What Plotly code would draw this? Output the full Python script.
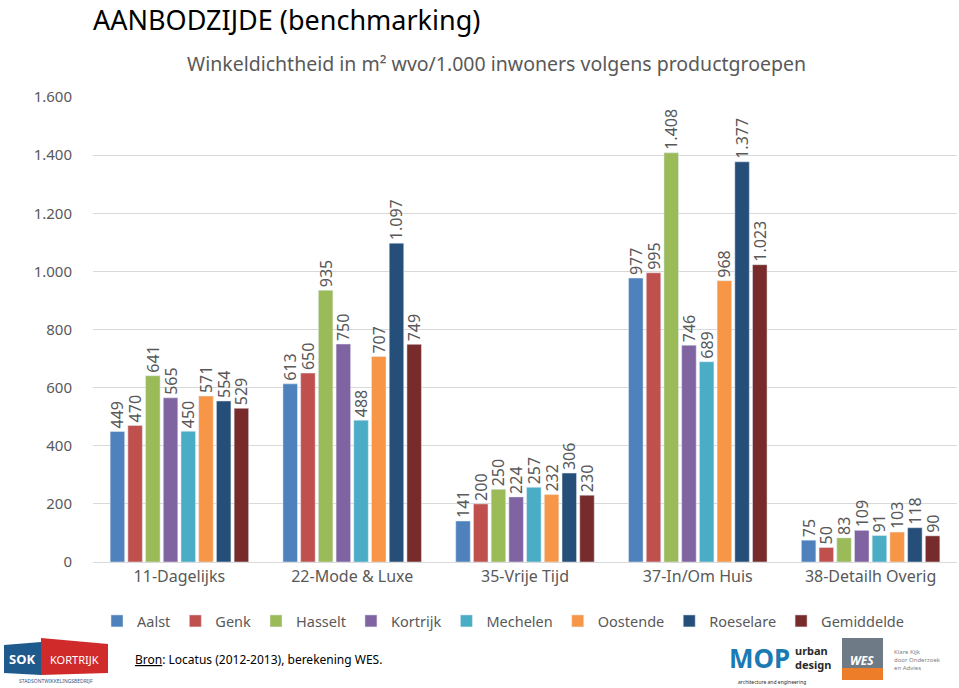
import plotly.graph_objects as go

categories = ["11-Dagelijks", "22-Mode & Luxe", "35-Vrije Tijd", "37-In/Om Huis", "38-Detailh Overig"]
series_names = ["Aalst", "Genk", "Hasselt", "Kortrijk", "Mechelen", "Oostende", "Roeselare", "Gemiddelde"]
aalst = [449, 613, 141, 977, 75]
genk = [470, 650, 200, 995, 50]
hasselt = [641, 935, 250, 1408, 83]
kortrijk = [565, 750, 224, 746, 109]
mechelen = [450, 488, 257, 689, 91]
oostende = [571, 707, 232, 968, 103]
roeselare = [554, 1097, 306, 1377, 118]
gemiddelde = [529, 749, 230, 1023, 90]
series_values = [aalst, genk, hasselt, kortrijk, mechelen, oostende, roeselare, gemiddelde]
colors = ["#4F81BD", "#C0504D", "#9BBB59", "#8064A2", "#4BACC6", "#F79646", "#254E79", "#772B2A"]
y_ticks = [0, 200, 400, 600, 800, 1000, 1200, 1400, 1600]

W, H = 959, 688
ML, MR, MT, MB = 93, 2, 97, 126
PW, PH = W - ML - MR, H - MT - MB

def px(x):
    return (x - ML) / PW

def py(y):
    return (H - MB - y) / PH

FONT = "Noto Sans"
GRAY = "#595959"

fig = go.Figure()
for name, vals, col in zip(series_names, series_values, colors):
    fig.add_trace(go.Bar(
        name=name, x=categories, y=vals, marker_color=col,
        texttemplate="%{y:,.0f}", textposition="outside", textangle=-90,
        textfont=dict(family=FONT, size=16, color=GRAY), cliponaxis=False,
    ))

shapes = []
annotations = []

def note(text, x, y, size, color, xanchor="center", **kw):
    annotations.append(dict(text=text, xref="paper", yref="paper", x=px(x), y=py(y),
                            xanchor=xanchor, yanchor="middle", showarrow=False,
                            font=dict(family=FONT, size=size, color=color), **kw))

# Title and subtitle
note("AANBODZIJDE (benchmarking)", 91, 19, 27, "#000000", xanchor="left")
note("Winkeldichtheid in m² wvo/1.000 inwoners volgens productgroepen", 496, 63, 19.5, GRAY)
# Source
note("<u>Bron</u>: Locatus (2012-2013), berekening WES.", 133, 659, 12, "#000000", xanchor="left")

# SOK KORTRIJK logo
shapes.append(dict(type="path", xref="paper", yref="paper", layer="below",
                   path=f"M {px(4)},{py(645)} L {px(41)},{py(642)} L {px(41)},{py(675)} L {px(4)},{py(673)} Z",
                   fillcolor="#1F5A8C", line=dict(width=0)))
shapes.append(dict(type="path", xref="paper", yref="paper", layer="below",
                   path=f"M {px(41)},{py(638)} L {px(108)},{py(644)} L {px(108)},{py(673)} L {px(41)},{py(675)} Z",
                   fillcolor="#D02A2A", line=dict(width=0)))
note("<b>SOK</b>", 22, 659, 13, "white")
note("KORTRIJK", 74, 659, 11, "white")
note("STADSONTWIKKELINGSBEDRIJF", 56, 681, 5, "#1F5A8C")

# MOP urban design logo
note("<b>MOP</b>", 792, 658, 26, "#1B7AB3", xanchor="right")
note("<b>urban</b>", 793, 650, 11, "#2A2A2A", xanchor="left")
note("<b>design</b>", 793, 664, 11, "#2A2A2A", xanchor="left")
note("architecture and engineering", 772, 682, 5, "#2A2A2A")

# WES logo
shapes.append(dict(type="rect", xref="paper", yref="paper", layer="below", x0=px(842), x1=px(883),
                   y0=py(668), y1=py(638), fillcolor="#6E7B87", line=dict(width=0)))
shapes.append(dict(type="rect", xref="paper", yref="paper", layer="below", x0=px(842), x1=px(883),
                   y0=py(680), y1=py(668), fillcolor="#EE7D2A", line=dict(width=0)))
note("<b><i>WES</i></b>", 862, 660, 12, "white")
note("Klare Kijk<br>door Onderzoek<br>en Advies", 892, 660, 6, "#7F7F7F", xanchor="left", align="left")

fig.update_layout(
    width=W, height=H,
    margin=dict(l=ML, r=MR, t=MT, b=MB, autoexpand=False),
    paper_bgcolor="white", plot_bgcolor="white",
    barmode="group", bargap=0.18, bargroupgap=0.18,
    separators=",.",
    font=dict(family=FONT, color=GRAY),
    showlegend=True,
    uniformtext=dict(minsize=16, mode="show"),
    legend=dict(orientation="h", x=px(503), xanchor="center", y=py(621), yanchor="middle",
                font=dict(family=FONT, size=14.5, color=GRAY), itemwidth=30,
                traceorder="normal"),
    shapes=shapes, annotations=annotations,
)
fig.update_yaxes(range=[0, 1600], tickvals=y_ticks, tickformat=",.0f", automargin=False,
                 showgrid=True, gridcolor="#D9D9D9", gridwidth=1, zeroline=False,
                 showline=False, ticks="", ticklabelstandoff=20,
                 tickfont=dict(family=FONT, size=15, color=GRAY))
fig.update_xaxes(showline=True, linecolor="#D9D9D9", linewidth=1, ticks="", automargin=False,
                 tickfont=dict(family=FONT, size=16, color=GRAY))

fig.write_html("out.html", config={"displayModeBar": False},
               post_script="document.body.style.margin='0px';")
